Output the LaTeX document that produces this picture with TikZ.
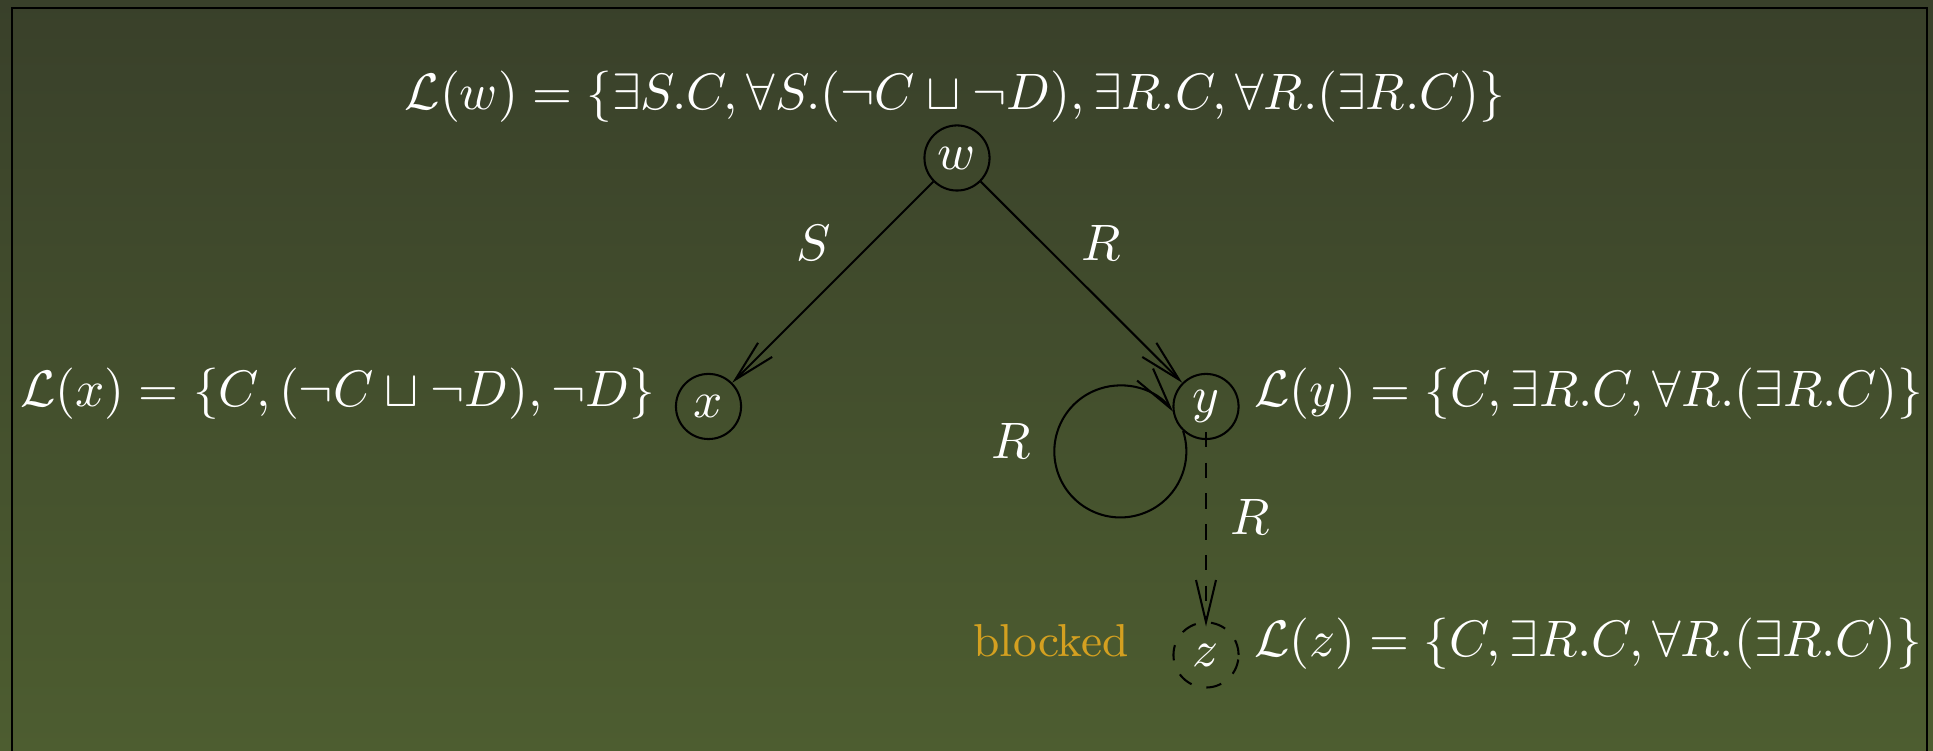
\documentclass[tikz,border=0pt]{standalone}
\usetikzlibrary{arrows.meta}
\definecolor{bgtop}{RGB}{57,64,42}
\definecolor{bgbot}{RGB}{77,93,48}
\definecolor{blockcol}{RGB}{212,160,32}
\begin{document}
\begin{tikzpicture}[x=0.195pt,y=0.195pt,
  state/.style={draw=black,circle,line width=0.4pt,minimum size=12.7pt,inner sep=0pt,text=white},
  lab/.style={text=white,inner sep=0pt},
  arr/.style={-{Straight Barb[length=8.2pt,width=3.9pt]},line width=0.4pt,draw=black},
]
\useasboundingbox (0,0) rectangle (1933,751);
\clip (0,0) rectangle (1933,751);
\shade[top color=bgtop,bottom color=bgbot] (0,0) rectangle (1933,751);
\draw[line width=0.4pt] (11.7,-20) -- (11.7,742.7) -- (1927,742.7) -- (1927,-20);

\node[state] (w) at (957,593) {$w$};
\node[state] (x) at (708.5,344.5) {$x$};
\node[state] (y) at (1206,344.5) {$y$};
\node[state,dashed] (z) at (1206,96) {$z$};

\node[lab,anchor=base] (Lw) at (955,641) {$\mathcal{L}(w) = \{\exists S.C, \forall S.(\neg C \sqcup \neg D), \exists R.C, \forall R.(\exists R.C)\}$};
\node[lab,anchor=base east] (Lx) at (656,344) {$\mathcal{L}(x) = \{C, (\neg C \sqcup \neg D), \neg D\}$};
\node[lab,anchor=base west] (Ly) at (1253,344) {$\mathcal{L}(y) = \{C, \exists R.C, \forall R.(\exists R.C)\}$};
\node[lab,anchor=base west] (Lz) at (1253,94) {$\mathcal{L}(z) = \{C, \exists R.C, \forall R.(\exists R.C)\}$};
\node[inner sep=0pt,anchor=base east,text=blockcol,font=\small] (bl) at (1130,94) {blocked};

\node[lab] (lS) at (814,508) {$S$};
\node[lab] (lR1) at (1101,508) {$R$};
\node[lab] (lR2) at (1011,310.5) {$R$};
\node[lab] (lR3) at (1250,234.5) {$R$};

\draw[arr] (w) -- (x);
\draw[arr] (w) -- (y);
\draw[arr] (y.-133) arc[start angle=18,end angle=-323,radius=66];
\draw[arr,dashed,shorten <=-1.6pt,shorten >=-1pt] (y) -- (z);
\end{tikzpicture}
\end{document}
